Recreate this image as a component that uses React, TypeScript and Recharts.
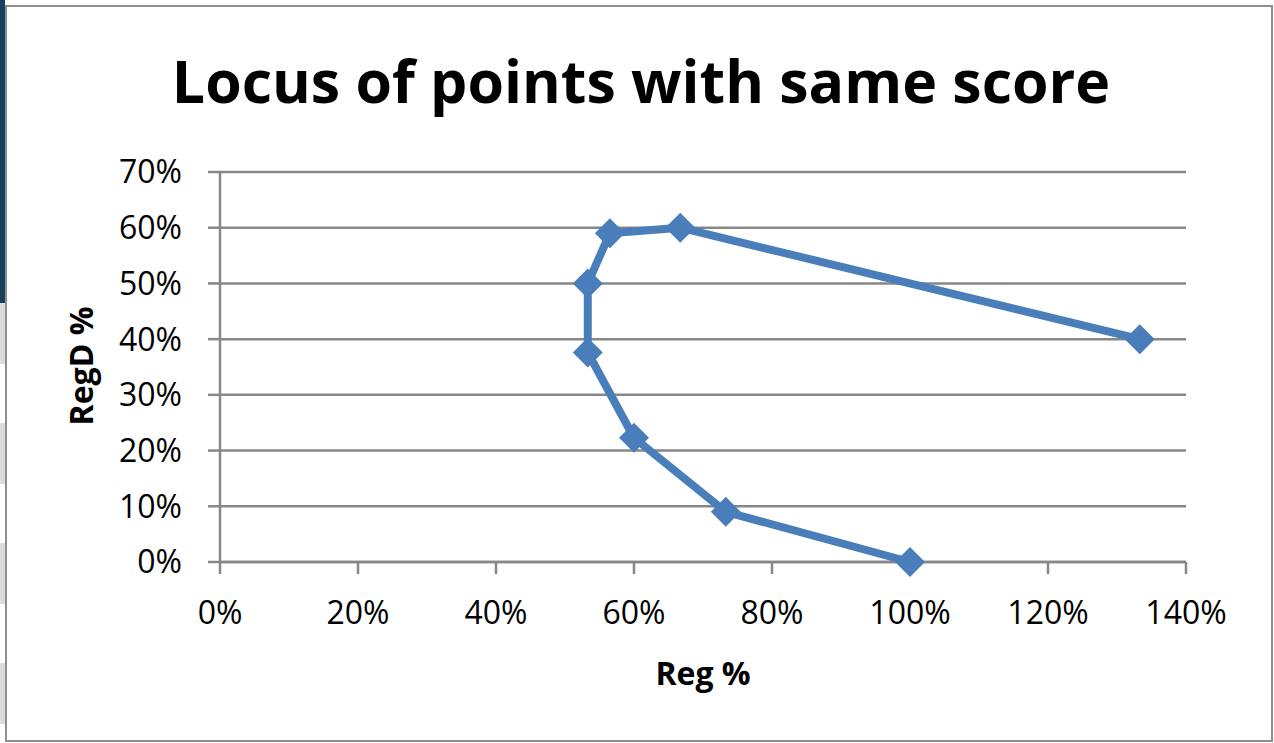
import { CartesianGrid, Scatter, ScatterChart, XAxis, YAxis } from 'recharts';

// Reg % (x) and RegD % (y), in drawing order along the locus
const regValues = [1.333, 0.667, 0.565, 0.533, 0.533, 0.6, 0.733, 1.0];
const regDValues = [0.4, 0.6, 0.59, 0.5, 0.376, 0.223, 0.09, 0];

const xTicks = [0, 0.2, 0.4, 0.6, 0.8, 1.0, 1.2, 1.4];
const yTicks = [0, 0.1, 0.2, 0.3, 0.4, 0.5, 0.6, 0.7];

const TITLE = 'Locus of points with same score';
const X_LABEL = 'Reg %';
const Y_LABEL = 'RegD %';

const points = regValues.map((x, i) => ({ x, y: regDValues[i] }));

const BLUE = '#4a7ebb';
const GRID = '#878787';
const FONT = '"Open Sans", sans-serif';

const pct = (v: number) => `${Math.round(v * 100)}%`;

function Diamond(props: any) {
    const { cx, cy } = props;
    const r = 15;
    return <path d={`M${cx},${cy - r}L${cx + r},${cy}L${cx},${cy + r}L${cx - r},${cy}Z`} fill={BLUE} />;
}

export default function App() {
    return (
        <div style={{ position: 'absolute', left: 0, top: 0, width: 1274, height: 743, background: '#fff', overflow: 'hidden' }}>
            {/* bits of the slide behind the chart */}
            <div style={{ position: 'absolute', left: 0, top: 0, width: 5, height: 303, background: '#173f5c' }} />
            {[303, 423, 543, 663].map((t) => (
                <div key={t} style={{ position: 'absolute', left: 0, top: t, width: 5, height: 61, background: '#dcdcdc' }} />
            ))}
            <div
                style={{
                    position: 'absolute',
                    left: 5,
                    top: 5,
                    width: 1268,
                    height: 737,
                    border: '2.5px solid #8e8e8e',
                    boxSizing: 'border-box',
                }}
            />
            <div style={{ position: 'absolute', left: 0, top: 0 }}>
                <ScatterChart width={1274} height={743} margin={{ top: 172, right: 88, bottom: 0, left: 0 }}>
                    <CartesianGrid vertical={false} stroke={GRID} strokeWidth={2.5} />
                    <XAxis
                        type="number"
                        dataKey="x"
                        domain={[0, 1.4]}
                        ticks={xTicks}
                        tickFormatter={pct}
                        height={181}
                        tickSize={12}
                        tickMargin={27}
                        axisLine={{ stroke: GRID, strokeWidth: 2.5 }}
                        tickLine={{ stroke: GRID, strokeWidth: 2.5 }}
                        tick={{ fill: '#000', fontSize: 32, fontFamily: FONT }}
                        interval={0}
                    />
                    <YAxis
                        type="number"
                        dataKey="y"
                        domain={[0, 0.7]}
                        ticks={yTicks}
                        tickFormatter={pct}
                        width={220}
                        tickSize={12}
                        tickMargin={26}
                        axisLine={{ stroke: GRID, strokeWidth: 2.5 }}
                        tickLine={{ stroke: GRID, strokeWidth: 2.5 }}
                        tick={{ fill: '#000', fontSize: 32, fontFamily: FONT }}
                        interval={0}
                    />
                    <Scatter
                        data={points}
                        line={{ stroke: BLUE, strokeWidth: 8, strokeLinejoin: 'round' }}
                        shape={Diamond}
                        isAnimationActive={false}
                    />
                </ScatterChart>
            </div>
            <svg width={1274} height={743} style={{ position: 'absolute', left: 0, top: 0, pointerEvents: 'none' }}>
                <text x={641} y={103} textAnchor="middle" fontFamily={FONT} fontWeight={700} fontSize={59} fill="#000">
                    {TITLE}
                </text>
                <text x={703} y={685} textAnchor="middle" fontFamily={FONT} fontWeight={700} fontSize={32} fill="#000">
                    {X_LABEL}
                </text>
                <text
                    x={93}
                    y={366}
                    textAnchor="middle"
                    transform="rotate(-90, 93, 366)"
                    fontFamily={FONT}
                    fontWeight={700}
                    fontSize={32}
                    fill="#000"
                >
                    {Y_LABEL}
                </text>
            </svg>
        </div>
    );
}
